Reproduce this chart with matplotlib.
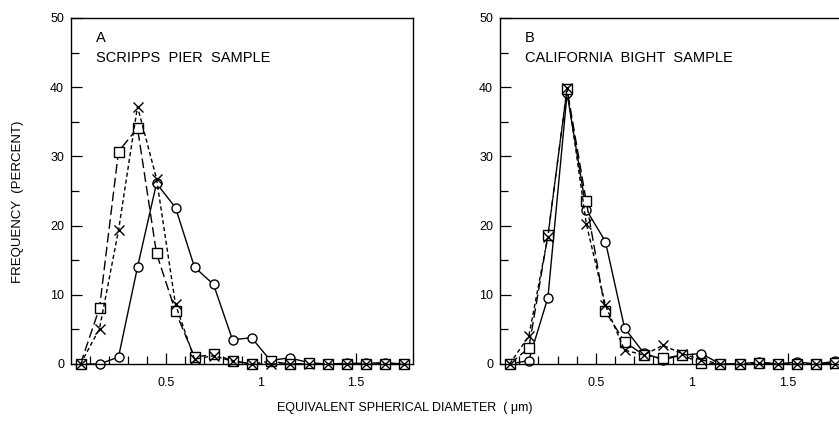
#!/usr/bin/env python3
# -*- coding: utf-8 -*-

import matplotlib
matplotlib.use("Agg")
import matplotlib.pyplot as plt
from matplotlib.ticker import FixedLocator

# bin centres (um)
diam = [0.05, 0.15, 0.25, 0.35, 0.45, 0.55, 0.65, 0.75, 0.85,
        0.95, 1.05, 1.15, 1.25, 1.35, 1.45, 1.55, 1.65, 1.75]

# panel A - Scripps Pier
a_circ = [0, 0, 1.0, 14.0, 26.1, 22.6, 14.0, 11.5, 3.5,
          3.8, 0.5, 0.9, 0.2, 0, 0.1, 0.1, 0.2, 0]
a_sq = [0, 8.1, 30.7, 34.1, 16.0, 7.6, 1.0, 1.4, 0.5,
        0, 0.4, 0, 0.1, 0, 0, 0, 0, 0]
a_x = [0, 5.1, 19.3, 37.2, 26.8, 8.6, 0.7, 1.2, 0.4,
       0, 0, 0, 0, 0, 0, 0, 0, 0]

# panel B - California Bight
b_circ = [0, 0.5, 9.6, 39.1, 22.3, 17.7, 5.2, 1.6, 0.6,
          1.3, 1.5, 0, 0, 0.3, 0, 0.3, 0, 0.4]
b_sq = [0, 2.3, 18.6, 39.7, 23.5, 7.6, 3.2, 1.3, 0.8,
        1.3, 0.1, 0, 0, 0.2, 0, 0, 0, 0.2]
b_x = [0, 4.0, 18.4, 39.9, 20.3, 8.5, 2.0, 1.3, 2.7,
       1.5, 0.6, 0, 0, 0.1, 0, 0, 0, 0]

FONT = "Liberation Sans"


def draw_panel(ax, circ, sq, xs, letter, title):
    kw = dict(color="black", lw=1.0, mfc="white", mew=1.0, ms=6.5, clip_on=False)
    ax.plot(diam, circ, "-", marker="o", **kw)
    ax.plot(diam, sq, linestyle=(0, (7, 3)), marker="s", **kw)
    ax.plot(diam, xs, linestyle=(0, (3, 2)), marker="x", **kw)

    ax.set_xlim(0, 1.8)
    ax.set_ylim(0, 50)
    ax.xaxis.set_major_locator(FixedLocator([0.5, 1.0, 1.5]))
    ax.xaxis.set_minor_locator(FixedLocator([0.1, 0.2, 0.3, 0.4, 0.6, 0.7, 0.8, 0.9]))
    ax.set_xticklabels(["0.5", "1", "1.5"])
    ax.yaxis.set_major_locator(FixedLocator([0, 10, 20, 30, 40, 50]))
    ax.yaxis.set_minor_locator(FixedLocator([5, 15, 25, 35, 45]))
    ax.tick_params(which="both", direction="in", top=False, right=False,
                   width=0.9, labelsize=9)
    ax.tick_params(which="major", length=8)
    ax.tick_params(which="minor", length=6)
    ax.tick_params(axis="x", pad=9)
    ax.tick_params(axis="y", pad=5)
    for lab in ax.get_xticklabels() + ax.get_yticklabels():
        lab.set_family(FONT)
    for sp in ax.spines.values():
        sp.set_linewidth(1.0)

    ax.text(0.073, 0.942, letter, transform=ax.transAxes, fontsize=10.5,
            family=FONT, va="center", ha="left")
    ax.text(0.073, 0.884, "  ".join(title.split(" ")), transform=ax.transAxes,
            fontsize=10.5, family=FONT, va="center", ha="left")


def main():
    fig = plt.figure(figsize=(8.39, 4.38), dpi=100)
    ax_a = fig.add_axes([71 / 839, 74 / 438, 342 / 839, 346 / 438])
    ax_b = fig.add_axes([500 / 839, 74 / 438, 345 / 839, 346 / 438])

    draw_panel(ax_a, a_circ, a_sq, a_x, "A", "SCRIPPS PIER SAMPLE")
    draw_panel(ax_b, b_circ, b_sq, b_x, "B", "CALIFORNIA BIGHT SAMPLE")

    fig.text(18 / 839, 1 - 202 / 438, "FREQUENCY  (PERCENT)", rotation=90,
             ha="center", va="center", fontsize=9.5, family=FONT)
    fig.text(405 / 839, 1 - 408 / 438, "EQUIVALENT SPHERICAL DIAMETER  ( \u03bcm)",
             ha="center", va="center", fontsize=9, family=FONT)

    fig.savefig("out.png", dpi=100)
    plt.close(fig)


if __name__ == "__main__":
    main()
